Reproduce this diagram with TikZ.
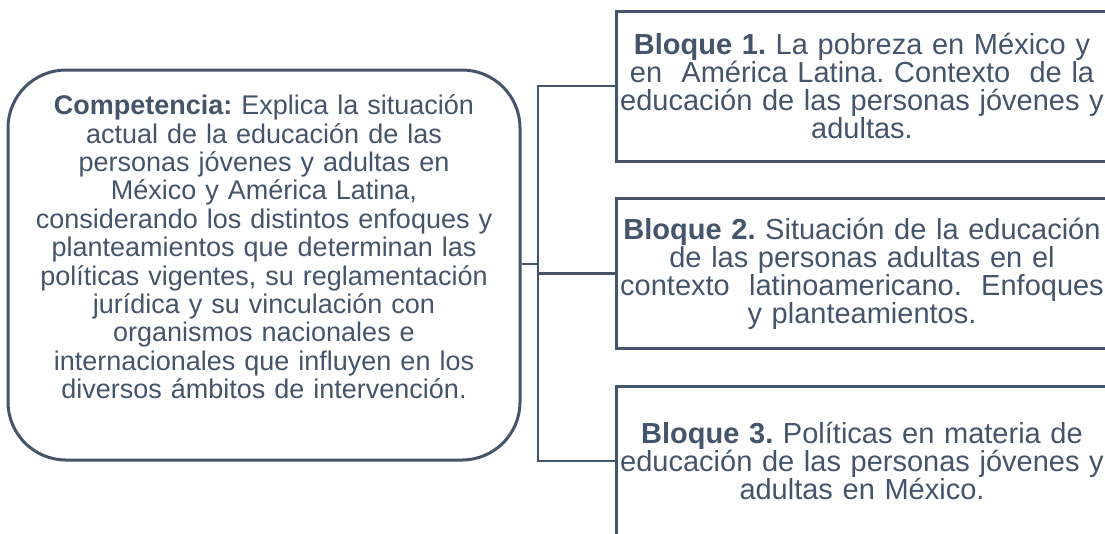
\documentclass[tikz,border=0pt]{standalone}
\usepackage{fontspec}
\setmainfont{Liberation Sans}
\definecolor{slate}{HTML}{44546A}
\frenchspacing

\begin{document}
\begin{tikzpicture}[x=1pt, y=-1pt,
		compbox/.style={draw=slate, line width=3pt, rounded corners=58pt,
		minimum width=512pt, minimum height=390pt, text width=500pt, inner sep=6pt,
		align=center, text=slate, font=\fontsize{27}{28.4}\selectfont},
		blockbox/.style={draw=slate, line width=3pt, minimum width=492pt,
		minimum height=150pt, text width=490pt, inner sep=0pt,
		align=center, text=slate, font=\fontsize{29}{28}\selectfont},
		link/.style={draw=slate, line width=2.2pt},
		node distance=187.5pt
		]
		\useasboundingbox (0,0) rectangle (1105,533);
		\clip (0,0) rectangle (1105,533);

		\node[compbox] at (264,265) (C){\textbf{Competencia:} Explica la situación\\
		actual de la educación de las\\
		personas jóvenes y adultas en\\
		México y América Latina,\\
		considerando los distintos enfoques y\\
		planteamientos que determinan las\\
		políticas vigentes, su reglamentación\\
		jurídica y su vinculación con\\
		organismos nacionales e\\
		internacionales que influyen en los\\
		diversos ámbitos de intervención.\\[8pt]\mbox{}};

		\node[blockbox] at (862,86) (B1){\textbf{Bloque 1.} La pobreza en México y\\
		en \ América Latina. Contexto \ de la\\
		educación de las personas jóvenes y\\
		adultas.};
		\node[blockbox, below of = B1](B2){\textbf{Bloque 2.} Situación de la educación\\
		de las personas adultas en el\\
		contexto \ latinoamericano. \ Enfoques\\
		y planteamientos.};
		\node[blockbox, below of = B2](B3){\textbf{Bloque 3.} Políticas en materia de\\
		educación de las personas jóvenes y\\
		adultas en México.};

		\coordinate (H) at (538,264);
		\draw[link] (C.east |- H) -- (H);
		\draw[link] (H) |- (B1.west);
		\draw[link] (H) |- (B2.west);
		\draw[link] (H) |- (B3.west);

	\end{tikzpicture}
\end{document}
